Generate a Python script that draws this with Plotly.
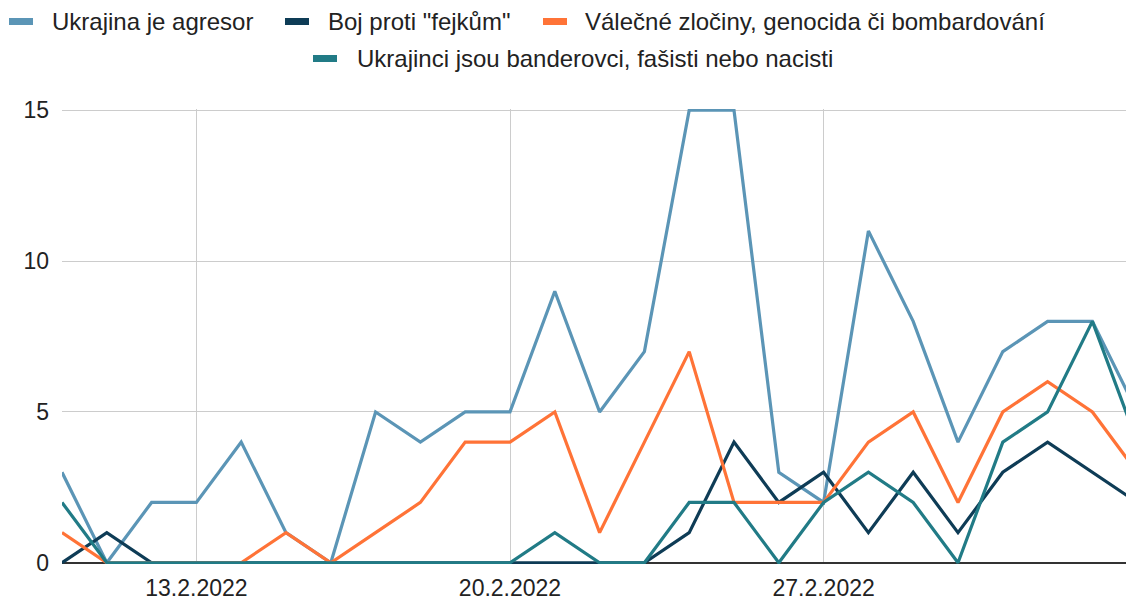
import plotly.graph_objects as go

# ---- data ----
dates = ["2022-02-10", "2022-02-11", "2022-02-12", "2022-02-13", "2022-02-14",
         "2022-02-15", "2022-02-16", "2022-02-17", "2022-02-18", "2022-02-19",
         "2022-02-20", "2022-02-21", "2022-02-22", "2022-02-23", "2022-02-24",
         "2022-02-25", "2022-02-26", "2022-02-27", "2022-02-28", "2022-03-01",
         "2022-03-02", "2022-03-03", "2022-03-04", "2022-03-05", "2022-03-06"]
agresor = [3, 0, 2, 2, 4, 1, 0, 5, 4, 5, 5, 9, 5, 7, 15, 15, 3, 2, 11, 8, 4, 7, 8, 8, 5]
fejky = [0, 1, 0, 0, 0, 0, 0, 0, 0, 0, 0, 0, 0, 0, 1, 4, 2, 3, 1, 3, 1, 3, 4, 3, 2]
zlociny = [1, 0, 0, 0, 0, 1, 0, 1, 2, 4, 4, 5, 1, 4, 7, 2, 2, 2, 4, 5, 2, 5, 6, 5, 3]
nacisti = [2, 0, 0, 0, 0, 0, 0, 0, 0, 0, 0, 1, 0, 0, 2, 2, 0, 2, 3, 2, 0, 4, 5, 8, 4]

names = ["Ukrajina je agresor", 'Boj proti "fejkům"',
         "Válečné zločiny, genocida či bombardování",
         "Ukrajinci jsou banderovci, fašisti nebo nacisti"]
colors = ["#5b95b6", "#0e3c56", "#ff7337", "#217b86"]
series = [agresor, fejky, zlociny, nacisti]

tick_vals = ["2022-02-13", "2022-02-20", "2022-02-27"]
tick_text = ["13.2.2022", "20.2.2022", "27.2.2022"]
y_ticks = [0, 5, 10, 15]

# ---- figure ----
W, H = 1126, 601
ML, MR, MT, MB = 62, 0, 109, 37
PW, PH = W - ML - MR, H - MT - MB

fig = go.Figure()
for name, col, vals in zip(names, colors, series):
    fig.add_trace(go.Scatter(x=dates, y=vals, mode="lines", name=name,
                             line=dict(color=col, width=3.2), showlegend=False))

FONT = "Liberation Sans, Arial, sans-serif"

def px_x(p):
    return (p - ML) / PW

def px_y(p):
    return (MT + PH - p) / PH

# custom legend (Google-chart style rectangles)
legend_items = [
    (9, 21.5, 50),
    (285, 21.5, 326),
    (543, 21.5, 583),
    (313, 58.5, 355),
]
shapes = []
annotations = []
for (rx, cy, tx), name, col in zip(legend_items, names, colors):
    shapes.append(dict(type="rect", xref="paper", yref="paper",
                       x0=px_x(rx), x1=px_x(rx + 24), y0=px_y(cy - 3.5), y1=px_y(cy + 3.5),
                       fillcolor=col, line=dict(width=0), layer="above"))
    annotations.append(dict(text=name, xref="paper", yref="paper",
                            x=px_x(tx), y=px_y(cy), xanchor="left", yanchor="middle",
                            showarrow=False, font=dict(family=FONT, size=24, color="#222222")))

fig.update_layout(
    width=W, height=H,
    margin=dict(l=ML, r=MR, t=MT, b=MB, pad=0),
    paper_bgcolor="white", plot_bgcolor="white",
    font=dict(family=FONT, size=23, color="#222222"),
    shapes=shapes, annotations=annotations,
    showlegend=False,
)
fig.update_xaxes(
    range=["2022-02-10", "2022-03-05 18:00"],
    tickvals=tick_vals, ticktext=tick_text,
    showgrid=True, gridcolor="#cccccc", gridwidth=1.3,
    showline=False, zeroline=False, ticks="",
    ticklabelstandoff=8,
    tickfont=dict(family=FONT, size=23, color="#222222"),
)
fig.update_yaxes(
    range=[-0.04, 15.04],
    tickvals=y_ticks,
    showgrid=True, gridcolor="#cccccc", gridwidth=1.3,
    zeroline=True, zerolinecolor="#333333", zerolinewidth=1.5,
    showline=False, ticks="",
    ticklabelstandoff=12,
    tickfont=dict(family=FONT, size=23, color="#222222"),
)

fig.write_html("out.html", config={"displayModeBar": False},
               post_script="document.body.style.margin='0';document.body.style.overflow='hidden';")
